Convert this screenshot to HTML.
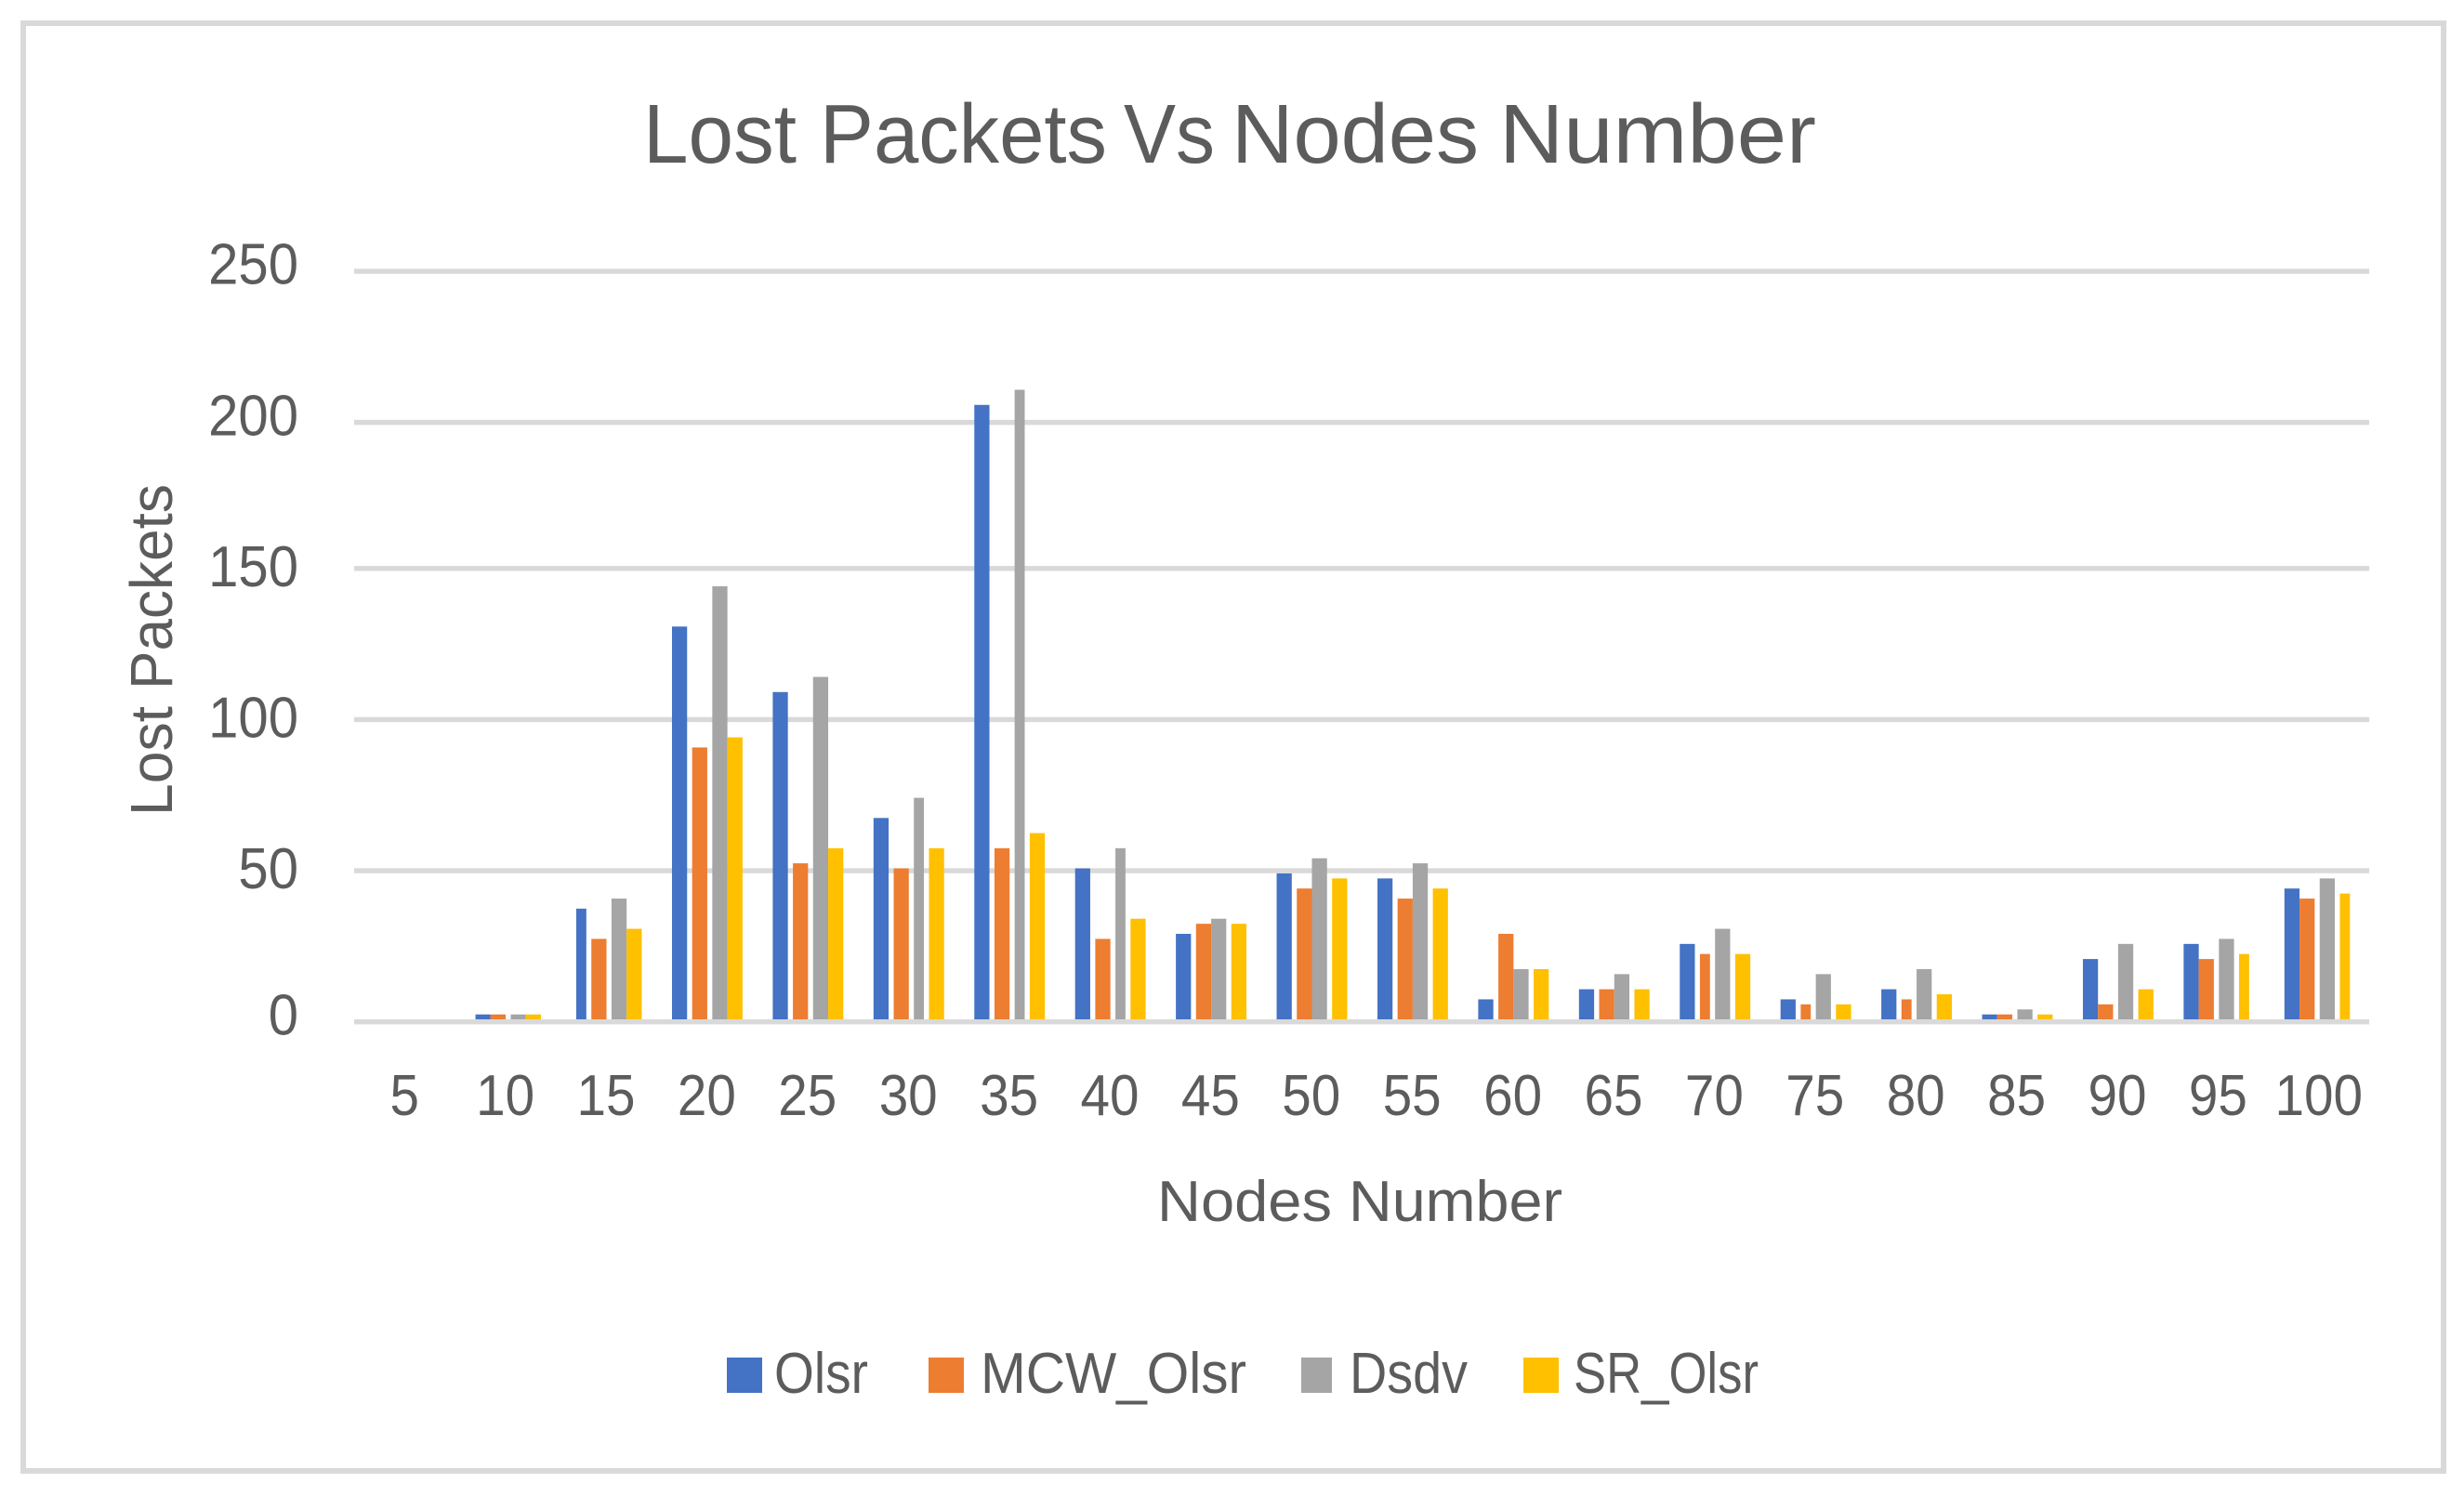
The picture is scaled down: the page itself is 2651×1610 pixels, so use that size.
<!DOCTYPE html>
<html lang="en">
<head>
<meta charset="utf-8">
<title>Lost Packets Vs Nodes Number</title>
<style>
html,body{margin:0;padding:0;background:#fff;width:2651px;height:1610px;overflow:hidden}
svg{display:block}
text{font-family:"Liberation Sans",sans-serif;fill:#5c5c5c}
</style>
</head>
<body>
<svg id="chart" xmlns="http://www.w3.org/2000/svg" width="2651" height="1610" viewBox="0 0 2651 1610">
  <rect x="25" y="25" width="2604" height="1558" fill="#fff" stroke="#d9d9d9" stroke-width="6"/>
  <text y="175" font-size="90"><tspan x="692" textLength="165" lengthAdjust="spacingAndGlyphs">Lost</tspan> <tspan x="882" textLength="309" lengthAdjust="spacingAndGlyphs">Packets</tspan> <tspan x="1209" textLength="98" lengthAdjust="spacingAndGlyphs">Vs</tspan> <tspan x="1325" textLength="266" lengthAdjust="spacingAndGlyphs">Nodes</tspan> <tspan x="1613" textLength="341" lengthAdjust="spacingAndGlyphs">Number</tspan></text>
  <g id="grid"></g>
  <g id="bars"></g>
  <g id="axis"></g>
  <g id="ylabels"></g>
  <g id="xlabels"></g>
  <text transform="translate(185 878) rotate(-90)" y="0" font-size="64"><tspan x="0" textLength="118" lengthAdjust="spacingAndGlyphs">Lost</tspan> <tspan x="136" textLength="221" lengthAdjust="spacingAndGlyphs">Packets</tspan></text>
  <text y="1314" font-size="62"><tspan x="1245" textLength="188" lengthAdjust="spacingAndGlyphs">Nodes</tspan> <tspan x="1451" textLength="230" lengthAdjust="spacingAndGlyphs">Number</tspan></text>
  <g>
    <rect x="782" y="1461" width="38" height="38" fill="#4472c4"/>
    <text x="833" y="1499" font-size="62" textLength="101" lengthAdjust="spacingAndGlyphs">Olsr</text>
    <rect x="999" y="1461" width="38" height="38" fill="#ed7d31"/>
    <text x="1055" y="1499" font-size="62" textLength="286" lengthAdjust="spacingAndGlyphs">MCW_Olsr</text>
    <rect x="1400" y="1461" width="33" height="38" fill="#a5a5a5"/>
    <text x="1452" y="1499" font-size="62" textLength="127" lengthAdjust="spacingAndGlyphs">Dsdv</text>
    <rect x="1639" y="1461" width="38" height="38" fill="#ffc000"/>
    <text x="1693" y="1499" font-size="62" textLength="199" lengthAdjust="spacingAndGlyphs">SR_Olsr</text>
  </g>
</svg>
<script>
const categories = [5,10,15,20,25,30,35,40,45,50,55,60,65,70,75,80,85,90,95,100];
const olsr    = [0,2,38,132,110,68,206,51,29,49,48,8,11,26,8,11,2,21,26,45];
const mcwOlsr = [0,2,28,91,53,51,58,28,33,45,41,29,11,23,6,8,2,6,21,41];
const dsdv    = [0,2,41,145,115,75,210,58,34,54,53,18,16,31,16,18,4,26,28,48];
const srOlsr  = [0,2,31,95,58,58,63,34,33,48,45,18,11,23,6,9,2,11,23,43];
const yTicks  = [0,50,100,150,200,250];
const seriesNames = ['olsr','mcw-olsr','dsdv','sr-olsr'];
const seriesValues = [olsr,mcwOlsr,dsdv,srOlsr];
const seriesColors = ['#4472c4','#ed7d31','#a5a5a5','#ffc000'];

const NS = 'http://www.w3.org/2000/svg';
const PLOT_LEFT = 381, PLOT_RIGHT = 2549, Y_ZERO = 1100, Y_MAX_PX = 291, Y_MAX = 250;
const PIXEL = 5.4213; // source image pixel size; marks snap to this grid
const GRID_OFFSET = 0.36;
const BAND_START = 73.62, BAND_STEP = 19.945;
const SLOT_LEFT = [0, 3.73, 7.29, 10.93], SLOT_RIGHT = [2.935, 6.57, 10.13, 13.84];
const catWidth = (PLOT_RIGHT - PLOT_LEFT) / categories.length;
function yScale(v){ return Y_ZERO - (Y_ZERO - Y_MAX_PX) * v / Y_MAX; }
function xCenter(i){ return PLOT_LEFT + (i + 0.5) * catWidth; }
function snapY(p){ return (Math.round(p / PIXEL - 0.38) + 0.38) * PIXEL; }
function snapBand(u){ return (Math.round(u) + GRID_OFFSET) * PIXEL; }
function bandPos(ci, offset){ return BAND_START + ci * BAND_STEP + offset; }

const grid = document.getElementById('grid');
const axis = document.getElementById('axis');
const ylabels = document.getElementById('ylabels');
yTicks.forEach(function(t){
  const line = document.createElementNS(NS,'rect');
  
  
  line.setAttribute('x', PLOT_LEFT);
  line.setAttribute('y', (Math.floor((yScale(t) - 2.75) / PIXEL) + 0.35) * PIXEL);
  line.setAttribute('width', PLOT_RIGHT - PLOT_LEFT);
  line.setAttribute('height', PIXEL);
  line.setAttribute('fill', '#d9d9d9');
  (t === 0 ? axis : grid).appendChild(line);
  const label = document.createElementNS(NS,'text');
  
  
  const s = String(t);
  const w = s.length * 32.3;
  label.setAttribute('x', 321 - w);
  label.setAttribute('y', snapY(yScale(t) + 15.5));
  label.setAttribute('font-size', '62');
  label.setAttribute('textLength', w);
  label.setAttribute('lengthAdjust', 'spacingAndGlyphs');
  label.textContent = s;
  ylabels.appendChild(label);
});

const bars = document.getElementById('bars');
seriesValues.forEach(function(vals, si){
  vals.forEach(function(v, ci){
    if (v <= 0) return;
    const x0 = snapBand(bandPos(ci, SLOT_LEFT[si]));
    const x1 = snapBand(bandPos(ci, SLOT_RIGHT[si]));
    const top = snapY(yScale(v));
    const r = document.createElementNS(NS,'rect');
    
    
    r.setAttribute('x', x0);
    r.setAttribute('y', top);
    r.setAttribute('width', x1 - x0);
    r.setAttribute('height', Y_ZERO - top);
    r.setAttribute('fill', seriesColors[si]);
    bars.appendChild(r);
  });
});

const xlabels = document.getElementById('xlabels');
categories.forEach(function(c, i){
  const s = String(c);
  const w = s.length * 31.5;
  const label = document.createElementNS(NS,'text');
  
  
  label.setAttribute('x', xCenter(i) - w / 2);
  label.setAttribute('y', 1200);
  label.setAttribute('font-size', '62');
  label.setAttribute('textLength', w);
  label.setAttribute('lengthAdjust', 'spacingAndGlyphs');
  label.textContent = s;
  xlabels.appendChild(label);
});
</script>
</body>
</html>
